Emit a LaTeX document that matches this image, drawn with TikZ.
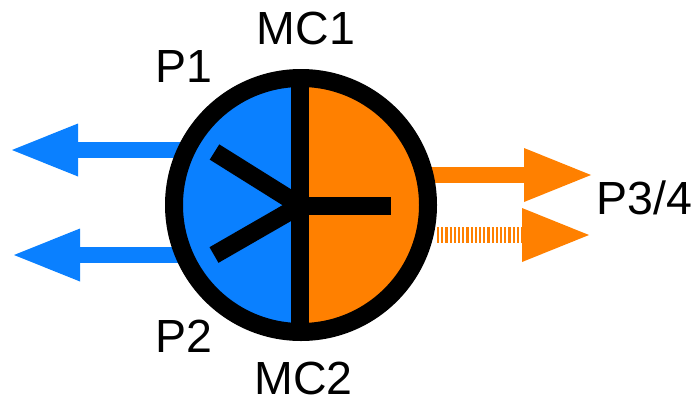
\documentclass[tikz,border=0pt]{standalone}
\usepackage{fontspec}
\setmainfont{Liberation Sans}
\usetikzlibrary{arrows.meta}
\definecolor{pblue}{HTML}{0A80FF}
\definecolor{porange}{HTML}{FF8000}
\tikzset{
  px/.style={x=1pt,y=-1pt},
  lab/.style={font=\fontsize{46.5pt}{46.5pt}\selectfont,text=black,inner sep=0pt},
  pumpring/.style={circle,draw=black,line width=18pt,minimum size=254pt,inner sep=0pt,outer sep=0pt},
  bar/.style={line width=18pt,draw=black},
  blueflow/.style={draw=pblue,line width=16pt,-{Triangle[length=66pt,width=53pt,line width=0pt,fill=pblue]}},
  orangeflow/.style={draw=porange,line width=16pt,-{Triangle[length=67pt,width=54pt,line width=0pt,fill=porange]}},
  ticks/.style={dash pattern=on 2.2pt off 2pt},
}
\begin{document}
\begin{tikzpicture}[px]
\useasboundingbox (0,0) rectangle (698,399);
% endpoints
\coordinate (ctr) at (301,205);
\coordinate (hub) at (300,205.5);
\coordinate (tipP1) at (12,150);
\coordinate (tipP2) at (14,255);
\coordinate (tipO1) at (591,175);
\coordinate (tipO2) at (589,235);
\coordinate (startP1) at (190,150);
\coordinate (startP2) at (190,255);
\coordinate (startO1) at (410,175);
\coordinate (startO2) at (437,235);
\coordinate (spokeA) at (214.5,152);
\coordinate (spokeB) at (214,255);
\coordinate (spokeC) at (391,205.5);
% flows
\draw[blueflow] (startP1) -- (tipP1);
\draw[blueflow] (startP2) -- (tipP2);
\draw[orangeflow] (startO1) -- (tipO1);
\draw[orangeflow,ticks] (startO2) -- (tipO2);
% halves
\fill[pblue] (301,78) arc[start angle=90,end angle=270,radius=127pt] -- cycle;
\fill[porange] (301,78) arc[start angle=90,end angle=-90,radius=127pt] -- cycle;
% ring and bars
\node[pumpring] (pump) at (ctr) {};
\draw[bar] (hub |- pump.north) -- (hub |- pump.south);
\draw[bar] (spokeA) -- (hub);
\draw[bar] (spokeB) -- (hub);
\draw[bar] (hub) -- (spokeC);
% labels
\node[lab] (mc1) at (306,28.5) {MC1};
\node[lab] (mc2) at (303.5,378.5) {MC2};
\node[lab] (p1) at (184,67) {P1};
\node[lab] (p2) at (184,336.5) {P2};
\node[lab] (p34) at (644.5,197.5) {P3/4};
\end{tikzpicture}
\end{document}
